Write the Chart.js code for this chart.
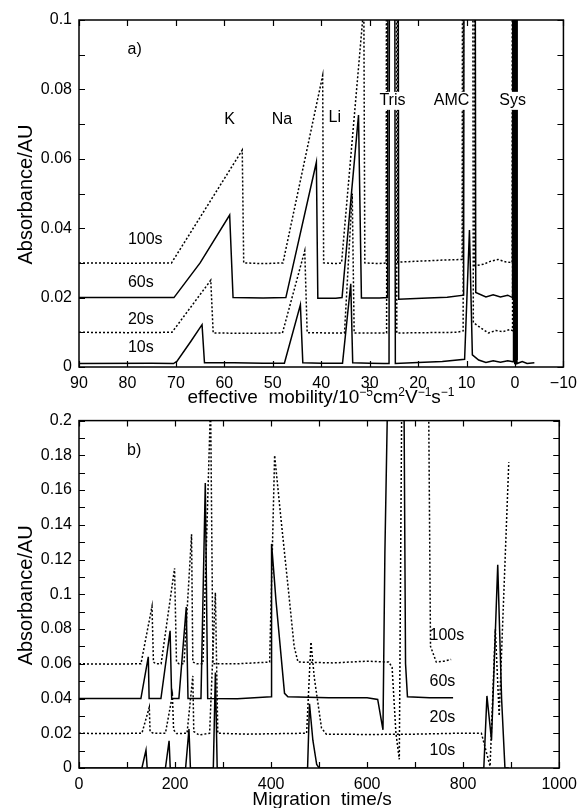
<!DOCTYPE html>
<html>
<head>
<meta charset="utf-8">
<script src="https://cdn.jsdelivr.net/npm/chart.js@4.4.1/dist/chart.umd.min.js"></script>
<style>
  html, body { margin: 0; padding: 0; background: #fff; }
  .box { position: absolute; left: 0; width: 584px; }
</style>
</head>
<body>
<div class="box" style="top:0;height:410px"><canvas id="chartA"></canvas></div>
<div class="box" style="top:404px;height:404px"><canvas id="chartB"></canvas></div>
<script>
// ---- panel a) absorbance vs effective mobility ----
const a10Mob = [90, 75, 70.5, 69.8, 67, 64.6, 64.1, 58, 52, 47.6, 44.3, 43.8, 40, 35.6, 33.9, 33.5, 30, 27, 26.0, 25.8, 25.0, 24.7, 20, 15, 10.4, 9.4, 8.8, 7.5, 6, 4.5, 3, 1.5, 0.4, 0.3, 0.1, 0.05, -0.05, -0.1, -0.3, -0.4, -1.5, -2.5, -4];
const a10Abs = [.001, .0011, .001, .0016, .0072, .0122, .0012, .0012, .0011, .0011, .0179, .0012, .0011, .0011, .024, .0012, .0011, .001, .001, .3, .3, .001, .0013, .0016, .0022, .0395, .0035, .002, .0013, .0018, .0014, .0018, .0015, .3, .3, .001, .001, .3, .3, .001, .0016, .001, .0012];

const a20Mob = [90, 80, 70.8, 62.8, 62.3, 55, 48, 43.4, 42.9, 38, 35.2, 33.6, 33.2, 29, 26.5, 26.3, 24.6, 24.4, 18, 12, 10.7, 10.5, 8.9, 8.6, 7, 5.5, 4, 2.5, 1, 0.5, 0.4, -0.2, -0.25];
const a20Abs = [.01, .0099, .01, .025, .0098, .0097, .0098, .0335, .0099, .0098, .0098, .05, .0098, .0098, .0098, .3, .3, .0098, .0099, .01, .0104, .3, .3, .0128, .0112, .0098, .0105, .0102, .0108, .0105, .3, .3, .002];

const a60Mob = [90, 80, 70.4, 65, 58.9, 58.2, 52, 47.3, 41.0, 40.7, 37, 35.7, 32.3, 31.7, 28, 26.3, 26.1, 24.3, 24.0, 18, 14, 10.6, 10.4, 8.4, 8.1, 6, 4.5, 3, 1.5, 0.5, 0.35, -0.35, -0.45];
const a60Abs = [.02, .02, .02, .030, .0438, .02, .0199, .02, .059, .0198, .0198, .02, .0726, .0199, .0199, .02, .3, .3, .0195, .0199, .0201, .0207, .3, .3, .0215, .0202, .0208, .0202, .0207, .02, .3, .3, .002];

const a100Mob = [90, 80, 70.9, 56.3, 56.0, 52, 47.9, 39.7, 39.5, 37, 35.8, 31.2, 31.0, 28, 26.6, 26.4, 24.4, 24.2, 20, 15, 10.9, 10.7, 8.6, 8.3, 6.5, 5, 3.5, 2, 0.6, 0.5, 0.2, -0.15, -0.2];
const a100Abs = [.03, .0299, .03, .0625, .03, .0298, .03, .084, .03, .0298, .03, .104, .03, .0298, .03, .3, .3, .0302, .0305, .0308, .031, .3, .3, .0292, .0296, .0305, .031, .0303, .0301, .3, .3, .3, .002];

const aMobTicks = [90, 80, 70, 60, 50, 40, 30, 20, 10, 0, -10];
const aAbsTicks = [0, 0.02, 0.04, 0.06, 0.08, 0.1];

// ---- panel b) absorbance vs migration time ----
const b10Time = [0, 131, 139.5, 142, 180, 187.6, 190, 222, 229, 232, 279.7, 284, 287.8, 476, 480, 487, 495, 500, 843, 849.5, 859, 872, 880, 887, 895];
const b10Abs = [0, 0, .0103, 0, 0, .0157, 0, 0, .0224, 0, 0, .055, 0, 0, .037, .016, .002, 0, 0, .0415, .016, .117, .04, 0, 0];

const b20Time = [0, 60, 131, 146.4, 148, 155, 180, 194.5, 197, 203, 225, 237, 239, 250, 272, 284, 289, 350, 420, 474, 483, 490, 505, 515, 600, 700, 790, 838, 856, 867, 875, 895];
const b20Abs = [.02, .0198, .02, .035, .021, .02, .02, .042, .022, .0198, .02, .053, .021, .019, .02, .101, .02, .0195, .0198, .02, .0725, .052, .023, .0195, .0193, .0195, .02, .02, .001, .08, .03, .176];

const b60Time = [0, 128.9, 144.3, 146, 170.6, 189.7, 193, 208, 223.4, 227, 254, 263, 268, 330, 400, 401, 407, 410, 428, 435, 520, 600, 622, 633, 637, 645, 676, 680, 684, 730, 779];
const b60Abs = [.04, .04, .064, .04, .04, .079, .04, .04, .0927, .04, .04, .164, .04, .0398, .041, .129, .108, .097, .043, .041, .0405, .0405, .0395, .022, .124, .25, .25, .06, .041, .0405, .0405];

const b100Time = [0, 60, 129, 152, 155, 160, 171, 199, 203, 208, 218.6, 234.4, 237, 245, 258, 274, 279, 330, 397, 407.4, 420, 437, 448, 456, 530, 600, 645, 652, 660, 667, 673, 727, 732, 744, 760, 775];
const b100Abs = [.06, .0598, .06, .093, .061, .06, .06, .115, .061, .06, .06, .1345, .061, .06, .06, .21, .06, .06, .061, .18, .145, .10, .07, .061, .0605, .0615, .061, .058, .02, .005, .25, .25, .07, .061, .0615, .0625];

const bTimeTicks = [0, 200, 400, 600, 800, 1000];
const bAbsTicks = [0, 0.02, 0.04, 0.06, 0.08, 0.1, 0.12, 0.14, 0.16, 0.18, 0.2];

const FONT = '"Liberation Sans", Arial, Helvetica, sans-serif';
Chart.defaults.font.family = FONT;
Chart.defaults.color = '#000';

function pts(xs, ys) {
  return xs.map((x, i) => ({ x: x, y: ys[i] }));
}

function series(xs, ys, dotted) {
  return {
    data: pts(xs, ys),
    borderColor: '#000',
    borderWidth: dotted ? 1.5 : 1.5,
    borderDash: dotted ? [2, 2] : [],
    pointRadius: 0,
    tension: 0,
    fill: false
  };
}

function drawRich(ctx, parts, cx, baseY, size) {
  let total = 0;
  parts.forEach(p => {
    ctx.font = (p.sup ? Math.round(size * 0.62) : size) + 'px ' + FONT;
    p.w = ctx.measureText(p.t).width;
    total += p.w;
  });
  let xx = cx - total / 2;
  ctx.textAlign = 'left';
  ctx.textBaseline = 'alphabetic';
  parts.forEach(p => {
    ctx.font = (p.sup ? Math.round(size * 0.62) : size) + 'px ' + FONT;
    ctx.fillText(p.t, xx, p.sup ? baseY - size * 0.38 : baseY);
    xx += p.w;
  });
}

// frame, inward ticks, titles and labels
function decor(opts) {
  return {
    id: 'decor',
    afterDraw(chart) {
      const ctx = chart.ctx;
      const a = chart.chartArea;
      const x = chart.scales.x, y = chart.scales.y;
      ctx.save();
      ctx.strokeStyle = '#000';
      ctx.lineWidth = 1.5;
      ctx.strokeRect(a.left, a.top, a.right - a.left, a.bottom - a.top);
      ctx.lineWidth = 1.2;
      ctx.beginPath();
      opts.xMarks.forEach(v => {
        const px = Math.round(x.getPixelForValue(v)) + 0.5;
        ctx.moveTo(px, a.bottom); ctx.lineTo(px, a.bottom - 6);
        ctx.moveTo(px, a.top); ctx.lineTo(px, a.top + 6);
      });
      opts.yMarks.forEach(v => {
        const py = Math.round(y.getPixelForValue(v)) + 0.5;
        ctx.moveTo(a.left, py); ctx.lineTo(a.left + 6, py);
        ctx.moveTo(a.right, py); ctx.lineTo(a.right - 6, py);
      });
      ctx.stroke();

      ctx.fillStyle = '#000';
      ctx.font = '16px ' + FONT;
      ctx.textBaseline = 'middle';
      opts.notes.forEach(n => {
        const px = x.getPixelForValue(n.x), py = y.getPixelForValue(n.y);
        ctx.textAlign = n.align || 'center';
        if (n.bg) {
          const w = ctx.measureText(n.text).width;
          ctx.fillStyle = '#fff';
          ctx.fillRect(px - w / 2 - 2, py - 9, w + 4, 18);
          ctx.fillStyle = '#000';
        }
        ctx.fillText(n.text, px, py);
      });

      // y title
      ctx.save();
      ctx.translate(32, (a.top + a.bottom) / 2 + 1);
      ctx.rotate(-Math.PI / 2);
      ctx.font = '20px ' + FONT;
      ctx.textAlign = 'center';
      ctx.textBaseline = 'alphabetic';
      ctx.fillText('Absorbance/AU', 0, 0);
      ctx.restore();

      drawRich(ctx, opts.xTitle, opts.xTitleX, opts.xTitleY, 19);
      ctx.restore();
    }
  };
}

function range(from, to, step) {
  const out = [];
  for (let v = from; v <= to + step / 2; v += step) out.push(+v.toFixed(4));
  return out;
}

function makeChart(id, datasets, cfg) {
  return new Chart(document.getElementById(id), {
    type: 'line',
    data: { datasets: datasets },
    options: {
      responsive: true,
      maintainAspectRatio: false,
      animation: false,
      events: [],
      layout: { padding: { top: cfg.top, right: 20, left: 0, bottom: 0 } },
      plugins: { legend: { display: false }, tooltip: { enabled: false } },
      scales: {
        x: {
          type: 'linear',
          min: cfg.xMin, max: cfg.xMax,
          reverse: cfg.reverse,
          grid: { display: false, drawTicks: false },
          border: { display: false },
          afterBuildTicks: s => { s.ticks = cfg.xTicks.map(v => ({ value: v })); },
          afterFit: s => { s.height = cfg.xHeight; },
          ticks: {
            padding: 7,
            maxRotation: 0,
            autoSkip: false,
            font: { size: 16 },
            callback: v => (v < 0 ? '\u2212' + Math.abs(v) : String(v))
          }
        },
        y: {
          type: 'linear',
          min: 0, max: cfg.yMax,
          grid: { display: false, drawTicks: false },
          border: { display: false },
          afterBuildTicks: s => { s.ticks = cfg.yTicks.map(v => ({ value: v })); },
          afterFit: s => { s.width = 79; },
          ticks: {
            padding: 7,
            autoSkip: false,
            font: { size: 16 },
            callback: v => (v === 0 ? '0' : String(+v.toFixed(2)))
          }
        }
      }
    },
    plugins: [decor(cfg.decor)]
  });
}

makeChart('chartA', [
  series(a10Mob, a10Abs, false),
  series(a20Mob, a20Abs, true),
  series(a60Mob, a60Abs, false),
  series(a100Mob, a100Abs, true)
], {
  top: 20, xHeight: 43, xMin: -10, xMax: 90, reverse: true, yMax: 0.1,
  xTicks: aMobTicks, yTicks: aAbsTicks,
  decor: {
    xMarks: aMobTicks,
    yMarks: range(0, 0.1, 0.01),
    notes: [
      { text: 'a)', x: 78.5, y: 0.0914 },
      { text: 'K', x: 58.9, y: 0.0712 },
      { text: 'Na', x: 48.1, y: 0.0712 },
      { text: 'Li', x: 37.2, y: 0.072 },
      { text: 'Tris', x: 25.3, y: 0.0767, bg: true },
      { text: 'AMC', x: 13.1, y: 0.0767, bg: true },
      { text: 'Sys', x: 0.5, y: 0.0767, bg: true },
      { text: '100s', x: 79.9, y: 0.0366, align: 'left' },
      { text: '60s', x: 79.9, y: 0.0242, align: 'left' },
      { text: '20s', x: 79.9, y: 0.0138, align: 'left' },
      { text: '10s', x: 79.9, y: 0.0055, align: 'left' }
    ],
    xTitle: [
      { t: 'effective  mobility/10' }, { t: '\u22125', sup: true },
      { t: 'cm' }, { t: '2', sup: true },
      { t: 'V' }, { t: '\u22121', sup: true },
      { t: 's' }, { t: '\u22121', sup: true }
    ],
    xTitleX: 321, xTitleY: 403
  }
});

makeChart('chartB', [
  series(b10Time, b10Abs, false),
  series(b20Time, b20Abs, true),
  series(b60Time, b60Abs, false),
  series(b100Time, b100Abs, true)
], {
  top: 16, xHeight: 40, xMin: 0, xMax: 1000, reverse: false, yMax: 0.2,
  xTicks: bTimeTicks, yTicks: bAbsTicks,
  decor: {
    xMarks: range(0, 1000, 100),
    yMarks: range(0, 0.2, 0.01),
    notes: [
      { text: 'b)', x: 115, y: 0.183 },
      { text: '100s', x: 730, y: 0.0764, align: 'left' },
      { text: '60s', x: 730, y: 0.05, align: 'left' },
      { text: '20s', x: 730, y: 0.0293, align: 'left' },
      { text: '10s', x: 730, y: 0.0103, align: 'left' }
    ],
    xTitle: [{ t: 'Migration  time/s' }],
    xTitleX: 322, xTitleY: 401
  }
});
</script>
</body>
</html>
